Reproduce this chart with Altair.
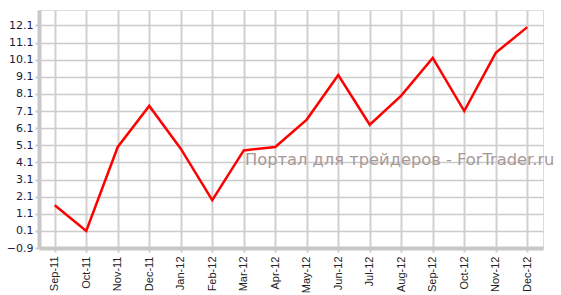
import altair as alt
import pandas as pd

months = ["Sep-11", "Oct-11", "Nov-11", "Dec-11", "Jan-12", "Feb-12", "Mar-12", "Apr-12",
          "May-12", "Jun-12", "Jul-12", "Aug-12", "Sep-12", "Oct-12", "Nov-12", "Dec-12"]
values = [1.6, 0.1, 5.0, 7.4, 4.9, 1.9, 4.8, 5.0, 6.6, 9.2, 6.3, 8.0, 10.2, 7.1, 10.5, 12.0]
y_ticks = [-0.9, 0.1, 1.1, 2.1, 3.1, 4.1, 5.1, 6.1, 7.1, 8.1, 9.1, 10.1, 11.1, 12.1]
watermark = ["Портал для трейдеров - ForTrader.ru"]

df = pd.DataFrame({"month": months, "value": values})

x = alt.X("month:N", sort=months, title=None,
          scale=alt.Scale(type="point", padding=0.5),
          axis=alt.Axis(labelAngle=-90, labelFont="Liberation Sans", labelFontSize=11,
                        labelColor="#222222", labelPadding=4, tickSize=4, tickColor="#cccccc",
                        tickWidth=2, domainColor="#c8c8c8", domainWidth=4,
                        gridColor="#d0d0d0", gridWidth=2, grid=True))
y = alt.Y("value:Q", title=None,
          scale=alt.Scale(domain=[-0.9, 13.0], nice=False, zero=False),
          axis=alt.Axis(values=y_ticks, format=".1f", labelFont="DejaVu Sans", labelFontSize=11,
                        labelColor="#1a1a3a", tickSize=4, tickColor="#cccccc", tickWidth=2,
                        domainColor="#c8c8c8", domainWidth=4, gridColor="#cccccc", gridWidth=1.5,
                        labelPadding=2))

line = alt.Chart(df).mark_line(color="#ff0000", strokeWidth=2.5).encode(x=x, y=y)

wm = alt.Chart(pd.DataFrame({"t": watermark})).mark_text(
    font="DejaVu Sans", fontSize=16.3, color="#a89898", align="left", baseline="alphabetic"
).encode(text="t:N", x=alt.value(206), y=alt.value(155))

chart = (line + wm).properties(
    width=504, height=238,
    autosize=alt.AutoSizeParams(type="none"),
    padding={"left": 39, "top": 10, "right": 18, "bottom": 47},
).configure_view(stroke=None).configure(background="white")

chart.save("out.html", embed_options={"renderer": "svg", "actions": False})
